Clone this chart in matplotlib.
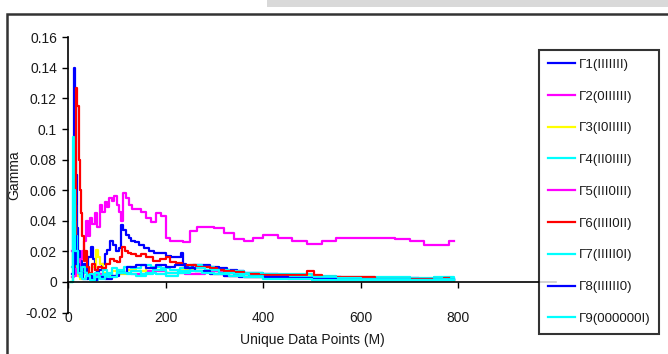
import matplotlib
matplotlib.use("Agg")
import matplotlib.pyplot as plt
from matplotlib.patches import Rectangle

plt.rcParams['font.family'] = ['Liberation Sans', 'DejaVu Sans']

# data (x = unique data points, y = gamma)
g1_x = [10, 12, 14, 16, 18, 20, 24, 28, 32, 36, 42, 48, 52, 56, 60, 64, 70, 76, 80, 86, 92, 98,
        104, 108, 112, 118, 124, 130, 138, 146, 156, 166, 176, 188, 200, 212, 224, 232, 236, 242,
        256, 270, 290, 310, 326, 346, 360, 380, 400, 430, 470, 500, 530, 560, 600, 640, 680, 720, 760, 790]
g1_y = [0.02, 0.14, 0.12, 0.07, 0.035, 0.02, 0.014, 0.007, 0.012, 0.006, 0.016, 0.023, 0.015, 0.008,
        0.003, 0.008, 0.012, 0.018, 0.021, 0.027, 0.024, 0.02, 0.022, 0.037, 0.034, 0.031, 0.029, 0.027,
        0.026, 0.024, 0.022, 0.02, 0.019, 0.019, 0.017, 0.016, 0.016, 0.019, 0.012, 0.01, 0.011, 0.011,
        0.01, 0.009, 0.008, 0.007, 0.006, 0.006, 0.005, 0.004, 0.004, 0.003, 0.003, 0.0025, 0.0025,
        0.0025, 0.0025, 0.002, 0.002, 0.002]

g2_x = [8, 12, 20, 30, 45, 60, 80, 100, 130, 160, 200, 240, 280, 320, 360, 400, 450, 500, 560, 620, 680, 740, 790]
g2_y = [0.003, 0.008, 0.004, 0.006, 0.003, 0.005, 0.004, 0.006, 0.005, 0.007, 0.006, 0.005, 0.007,
        0.004, 0.003, 0.003, 0.002, 0.0015, 0.002, 0.0015, 0.001, 0.0015, 0.001]

g3_x = [6, 10, 14, 18, 24, 30, 40, 50, 58, 62, 66, 72, 80, 90, 100, 120, 140, 160, 180, 200, 230, 260,
        290, 310, 330, 360, 400, 450, 500, 560, 620, 680, 740, 790]
g3_y = [0.0, 0.02, 0.012, 0.004, 0.002, 0.006, 0.004, 0.01, 0.021, 0.016, 0.012, 0.006, 0.004, 0.007,
        0.005, 0.008, 0.007, 0.009, 0.008, 0.006, 0.008, 0.007, 0.005, 0.006, 0.004, 0.003, 0.0025,
        0.004, 0.002, 0.0015, 0.0015, 0.001, 0.001, 0.0005]

g4_x = [8, 10, 12, 14, 16, 18, 20, 24, 28, 34, 40, 48, 56, 64, 72, 80, 90, 100, 115, 130, 150, 170, 190,
        210, 230, 250, 275, 300, 330, 360, 400, 450, 500, 550, 600, 650, 700, 750, 790]
g4_y = [0.01, 0.095, 0.08, 0.05, 0.03, 0.015, 0.008, 0.004, 0.01, 0.006, 0.003, 0.002, 0.006, 0.004,
        0.008, 0.005, 0.009, 0.007, 0.01, 0.009, 0.011, 0.01, 0.009, 0.008, 0.009, 0.011, 0.01, 0.008,
        0.007, 0.006, 0.005, 0.005, 0.004, 0.0035, 0.003, 0.003, 0.0025, 0.0035, 0.002]

g5_x = [8, 12, 16, 20, 24, 28, 32, 36, 40, 45, 50, 55, 60, 65, 70, 75, 80, 85, 90, 95, 100, 105, 108,
        112, 118, 125, 132, 140, 150, 160, 170, 180, 190, 200, 210, 220, 235, 250, 265, 280, 300, 320,
        340, 360, 380, 400, 430, 460, 490, 520, 550, 580, 610, 640, 670, 700, 730, 760, 780, 790]
g5_y = [0.02, 0.004, 0.012, 0.008, 0.015, 0.02, 0.027, 0.04, 0.03, 0.042, 0.038, 0.045, 0.036, 0.05,
        0.046, 0.052, 0.049, 0.055, 0.053, 0.056, 0.05, 0.046, 0.04, 0.058, 0.055, 0.05, 0.048, 0.048,
        0.046, 0.042, 0.039, 0.045, 0.043, 0.029, 0.027, 0.027, 0.026, 0.033, 0.036, 0.036, 0.035,
        0.032, 0.028, 0.027, 0.029, 0.031, 0.029, 0.027, 0.025, 0.027, 0.029, 0.029, 0.029, 0.029,
        0.028, 0.027, 0.024, 0.024, 0.027, 0.027]

g6_x = [10, 14, 16, 18, 22, 24, 26, 29, 32, 34, 38, 44, 50, 56, 62, 70, 78, 86, 94, 100, 106, 110, 116,
        122, 130, 140, 150, 160, 175, 188, 200, 210, 222, 234, 250, 262, 276, 292, 306, 320, 340, 360,
        376, 392, 420, 450, 480, 490, 505, 520, 560, 600, 630, 680, 730, 770, 780]
g6_y = [0.01, 0.03, 0.127, 0.115, 0.08, 0.06, 0.045, 0.03, 0.014, 0.02, 0.01, 0.006, 0.012, 0.008, 0.01,
        0.009, 0.012, 0.015, 0.014, 0.013, 0.016, 0.023, 0.02, 0.019, 0.018, 0.017, 0.018, 0.016, 0.014,
        0.015, 0.016, 0.013, 0.0125, 0.011, 0.011, 0.01, 0.0095, 0.009, 0.008, 0.007, 0.0065, 0.0055,
        0.005, 0.0048, 0.0048, 0.0048, 0.0048, 0.0074, 0.0048, 0.0035, 0.0035, 0.003, 0.002, 0.002,
        0.002, 0.0025, 0.0025]

g7_x = [6, 10, 14, 18, 24, 30, 38, 46, 54, 62, 70, 80, 90, 100, 115, 130, 150, 175, 200, 225, 250, 280,
        310, 340, 370, 400, 450, 500, 550, 600, 650, 700, 750, 790]
g7_y = [0.0, 0.04, 0.02, 0.01, 0.003, 0.006, 0.002, 0.005, 0.001, 0.004, 0.003, 0.006, 0.004, 0.008,
        0.006, 0.007, 0.005, 0.008, 0.006, 0.007, 0.009, 0.008, 0.006, 0.005, 0.004, 0.0035, 0.003,
        0.003, 0.0025, 0.002, 0.002, 0.0015, 0.002, 0.0015]

g8_x = [8, 12, 16, 22, 30, 40, 50, 60, 75, 90, 105, 120, 140, 160, 180, 200, 220, 240, 260, 290, 320,
        350, 400, 450, 500, 550, 600, 650, 700, 750, 790]
g8_y = [0.005, 0.03, 0.012, 0.006, 0.002, 0.004, 0.001, 0.003, 0.002, 0.004, 0.006, 0.01, 0.011, 0.009,
        0.011, 0.01, 0.011, 0.009, 0.007, 0.005, 0.004, 0.003, 0.003, 0.0025, 0.002, 0.0015, 0.0015,
        0.001, 0.0015, 0.001, 0.001]

g9_x = [6, 10, 14, 20, 28, 36, 45, 55, 65, 75, 85, 100, 120, 140, 160, 180, 200, 225, 250, 275, 300,
        330, 360, 400, 450, 500, 550, 600, 650, 700, 750, 790]
g9_y = [0.0, 0.06, 0.02, 0.006, 0.002, 0.004, 0.001, 0.003, 0.002, 0.005, 0.003, 0.006, 0.005, 0.004,
        0.006, 0.005, 0.004, 0.006, 0.007, 0.006, 0.005, 0.004, 0.003, 0.002, 0.002, 0.0015, 0.0015,
        0.001, 0.001, 0.001, 0.0015, 0.001]

labels = ['Γ1(IIIIIII)', 'Γ2(0IIIIII)', 'Γ3(I0IIIII)', 'Γ4(II0IIII)', 'Γ5(III0III)',
          'Γ6(IIII0II)', 'Γ7(IIIII0I)', 'Γ8(IIIIII0)', 'Γ9(000000I)']
colors = ['#0000ff', '#ff00ff', '#ffff00', '#00ffff', '#ff00ff',
          '#ff0000', '#00ffff', '#0000ff', '#00ffff']

x_ticks = [0, 200, 400, 600, 800]
y_ticks = [-0.02, 0, 0.02, 0.04, 0.06, 0.08, 0.1, 0.12, 0.14, 0.16]
y_ticklabels = ['-0.02', '0', '0.02', '0.04', '0.06', '0.08', '0.1', '0.12', '0.14', '0.16']

series = [(g1_x, g1_y), (g2_x, g2_y), (g3_x, g3_y), (g4_x, g4_y), (g5_x, g5_y),
          (g6_x, g6_y), (g7_x, g7_y), (g8_x, g8_y), (g9_x, g9_y)]

W, H = 668, 354
fig = plt.figure(figsize=(W / 100, H / 100), dpi=100)
ax = fig.add_axes([68 / W, 1 - 312.5 / H, 488 / W, 275.2 / H])

for (xs, ys), lab, c in zip(series, labels, colors):
    ax.plot(xs, ys, color=c, lw=1.6, drawstyle='steps-post', label=lab)

ax.set_xlim(0, 1000)
ax.set_ylim(-0.02, 0.16)
ax.set_xticks(x_ticks)
ax.set_yticks(y_ticks)
ax.set_yticklabels(y_ticklabels)

txt = '#1a1a1a'
for s in ['top', 'right']:
    ax.spines[s].set_visible(False)
ax.spines['bottom'].set_position(('data', 0))
ax.spines['bottom'].set_linewidth(1.2)
ax.spines['left'].set_linewidth(1.2)
ax.tick_params(axis='y', direction='out', length=4, width=1, pad=4, labelsize=10, labelcolor=txt)
ax.tick_params(axis='x', direction='out', length=4, width=1, pad=17, labelsize=10, labelcolor=txt)

ax.set_xlabel('Unique Data Points (M)', fontsize=10, color=txt)
ax.xaxis.set_label_coords(0.5, -0.075)
ax.set_ylabel('Gamma', fontsize=10, color=txt)
ax.yaxis.set_label_coords(-0.095, 0.5)

leg = fig.legend(*ax.get_legend_handles_labels(), loc='upper left',
                 bbox_to_anchor=(539 / W, 1 - 333 / H, 120 / W, 283 / H), mode='expand',
                 borderaxespad=0, fontsize=9.5, labelspacing=1.48, borderpad=0.65,
                 handlelength=2.1, handletextpad=0.3, fancybox=False, frameon=True)
leg.get_frame().set_edgecolor('black')
leg.get_frame().set_linewidth(1.5)
for t in leg.get_texts():
    t.set_color(txt)

# chart border and the grey strip along the top
fig.patches.append(Rectangle((7 / W, -0.1), 1.2, 1.1 - 14 / H, transform=fig.transFigure,
                             fill=False, lw=1.8, edgecolor='#333333'))
fig.patches.append(Rectangle((267 / W, 1 - 7 / H), 1, 7 / H, transform=fig.transFigure,
                             color='#d9d9d9', lw=0))

fig.savefig('out.png', dpi=100)
